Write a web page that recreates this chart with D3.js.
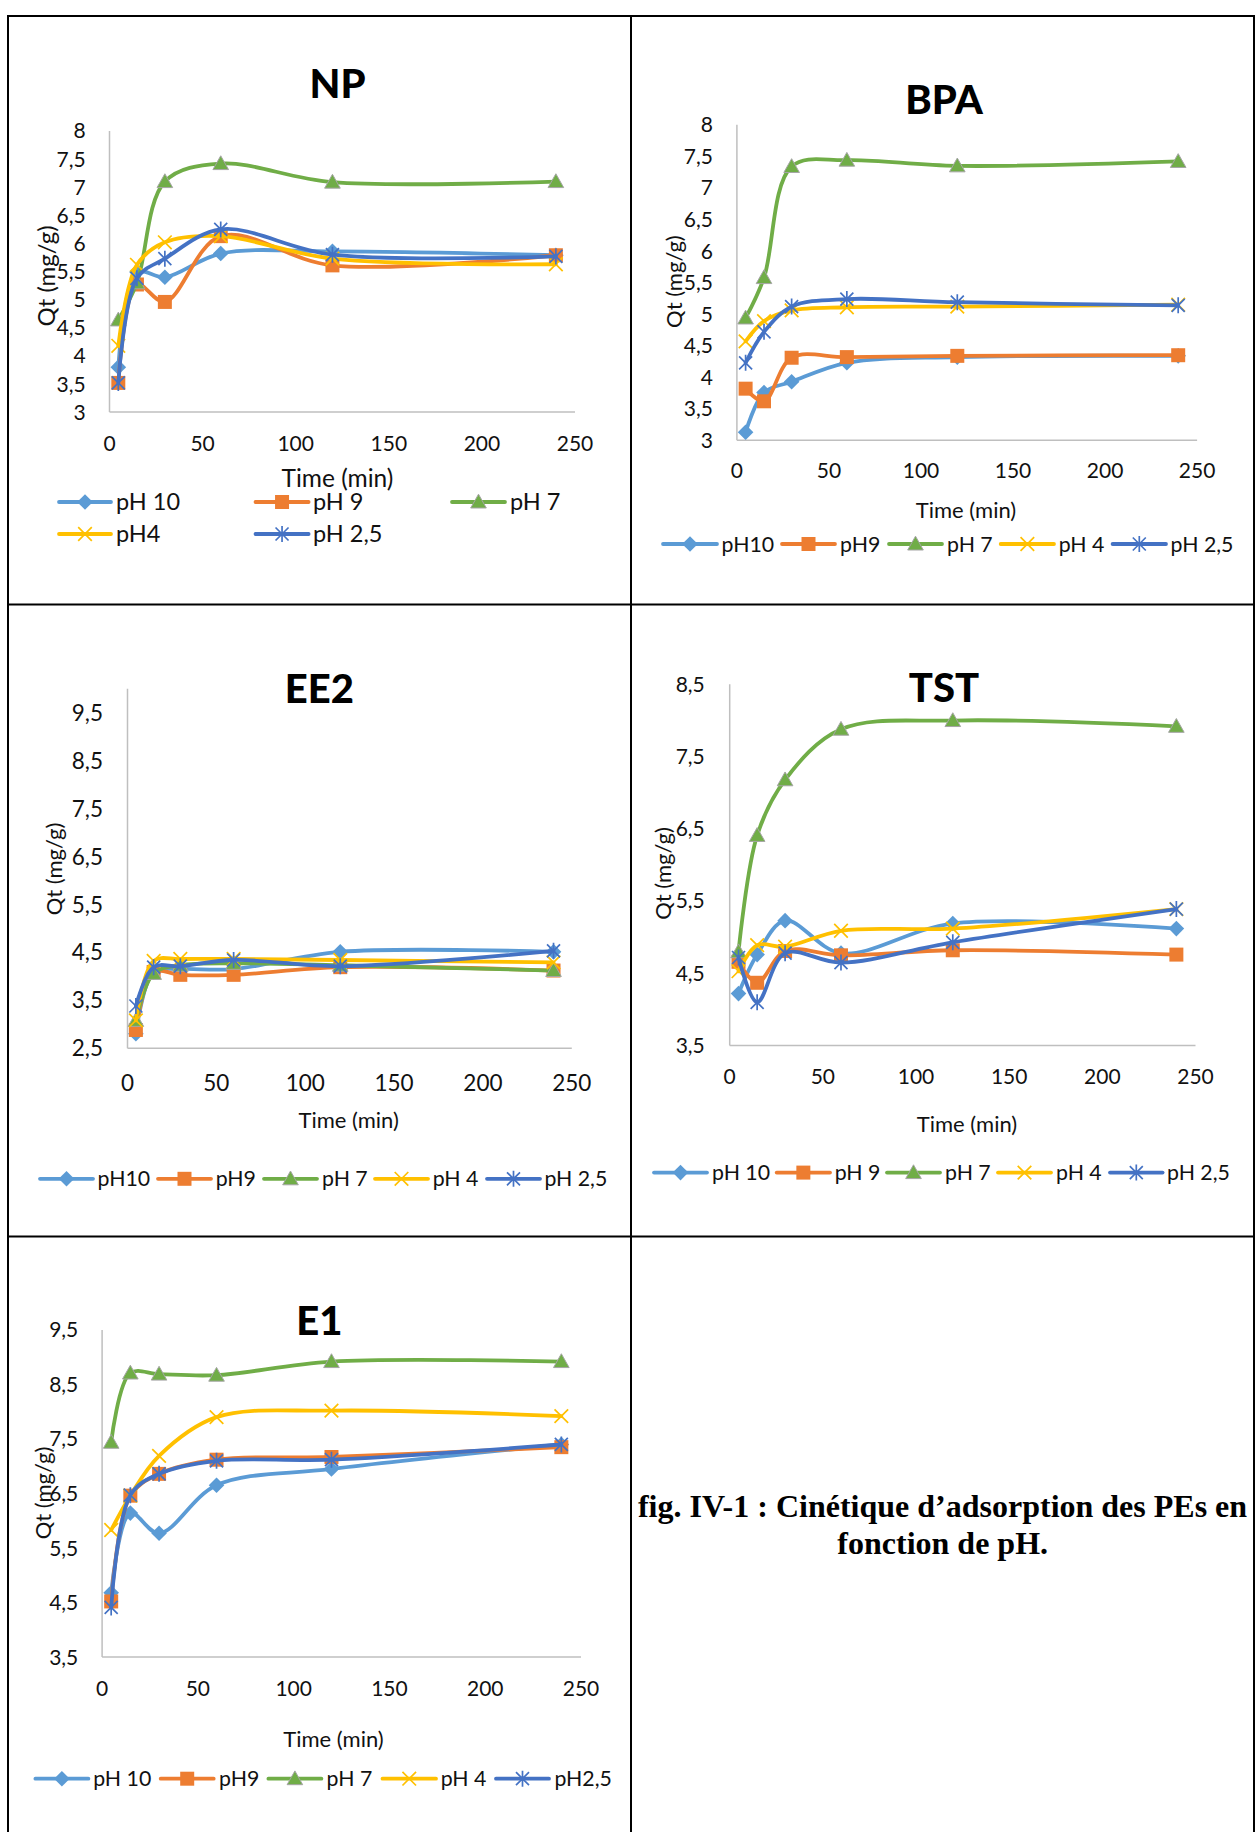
<!DOCTYPE html>
<html><head><meta charset="utf-8">
<script src="https://cdn.jsdelivr.net/npm/d3@7/dist/d3.min.js"></script>
<style>body{margin:0;background:#fff} svg{display:block}</style>
</head><body>
<svg id="fig" width="1255" height="1832"></svg>
<script>
// ---------------- data ----------------
const times = [5, 15, 30, 60, 120, 240];
const xTicks = [0, 50, 100, 150, 200, 250];
const seriesColors = ["#5B9BD5", "#ED7D31", "#70AD47", "#FFC000", "#4472C4"];
const seriesMarkers = ["diamond", "square", "triangle", "x", "star"];

const npLabels = ["pH 10", "pH 9", "pH 7", "pH4", "pH 2,5"];
const npYTicks = [3, 3.5, 4, 4.5, 5, 5.5, 6, 6.5, 7, 7.5, 8];
const npPH10 = [3.79, 5.48, 5.39, 5.81, 5.85, 5.78];
const npPH9  = [3.51, 5.26, 4.95, 6.12, 5.60, 5.78];
const npPH7  = [4.63, 5.29, 7.09, 7.41, 7.08, 7.09];
const npPH4  = [4.17, 5.61, 6.01, 6.12, 5.72, 5.62];
const npPH25 = [3.51, 5.37, 5.72, 6.24, 5.79, 5.76];

const bpaLabels = ["pH10", "pH9", "pH 7", "pH 4", "pH 2,5"];
const bpaYTicks = [3, 3.5, 4, 4.5, 5, 5.5, 6, 6.5, 7, 7.5, 8];
const bpaPH10 = [3.12, 3.75, 3.92, 4.22, 4.31, 4.33];
const bpaPH9  = [3.81, 3.61, 4.30, 4.31, 4.33, 4.34];
const bpaPH7  = [4.93, 5.57, 7.33, 7.43, 7.34, 7.41];
const bpaPH4  = [4.56, 4.88, 5.05, 5.10, 5.11, 5.14];
const bpaPH25 = [4.22, 4.71, 5.11, 5.23, 5.18, 5.13];

const ee2Labels = ["pH10", "pH9", "pH 7", "pH 4", "pH 2,5"];
const ee2YTicks = [2.5, 3.5, 4.5, 5.5, 6.5, 7.5, 8.5, 9.5];
const ee2PH10 = [2.79, 4.08, 4.14, 4.14, 4.50, 4.50];
const ee2PH9  = [2.87, 4.08, 4.02, 4.02, 4.18, 4.11];
const ee2PH7  = [3.07, 4.05, 4.22, 4.26, 4.22, 4.11];
const ee2PH4  = [3.07, 4.31, 4.35, 4.35, 4.33, 4.28];
const ee2PH25 = [3.37, 4.18, 4.20, 4.33, 4.20, 4.52];

const tstLabels = ["pH 10", "pH 9", "pH 7", "pH 4", "pH 2,5"];
const tstYTicks = [3.5, 4.5, 5.5, 6.5, 7.5, 8.5];
const tstPH10 = [4.21, 4.75, 5.22, 4.77, 5.18, 5.11];
const tstPH9  = [4.65, 4.36, 4.80, 4.74, 4.81, 4.75];
const tstPH7  = [4.79, 6.40, 7.17, 7.87, 7.99, 7.91];
const tstPH4  = [4.52, 4.88, 4.86, 5.08, 5.11, 5.38];
const tstPH25 = [4.71, 4.09, 4.77, 4.64, 4.92, 5.38];

const e1Labels = ["pH 10", "pH9", "pH 7", "pH 4", "pH2,5"];
const e1YTicks = [3.5, 4.5, 5.5, 6.5, 7.5, 8.5, 9.5];
const e1PH10 = [4.67, 6.13, 5.76, 6.64, 6.94, 7.39];
const e1PH9  = [4.51, 6.45, 6.85, 7.11, 7.16, 7.34];
const e1PH7  = [7.43, 8.70, 8.68, 8.66, 8.91, 8.91];
const e1PH4  = [5.82, 6.45, 7.18, 7.89, 8.01, 7.91];
const e1PH25 = [4.40, 6.46, 6.85, 7.09, 7.11, 7.39];

const captionLines = ["fig. IV-1 : Cinétique d\u2019adsorption des PEs en", "fonction de pH."];

// ---------------- layout ----------------
const FONT = "Lato, 'Open Sans', sans-serif";
const svg = d3.select("#fig");
const fmt = v => String(v).replace(".", ",");

const panels = [
  { title: "NP", labels: npLabels, yTicks: npYTicks, yDomain: [3, 8],
    series: [npPH10, npPH9, npPH7, npPH4, npPH25],
    x0: 109, x1: 574.5, yTop: 130.4, yBot: 411.6,
    tickFont: 21, xLabOff: 31.5, yPad: 23.4,
    titleX: 337.5, titleY: 98.4, titleSize: 40,
    timeX: 337.5, timeY: 478, timeSize: 24.5,
    qtX: 46, qtY: 276, qtSize: 24,
    legSize: 23.5,
    legend: [[59,111,116,502],[255.5,308.6,313,502],[452,505,510,502],[59,111,116,534],[255.5,308.6,313,534]] },
  { title: "BPA", labels: bpaLabels, yTicks: bpaYTicks, yDomain: [3, 8],
    series: [bpaPH10, bpaPH9, bpaPH7, bpaPH4, bpaPH25],
    x0: 736.4, x1: 1196.6, yTop: 124.2, yBot: 439.8,
    tickFont: 21, xLabOff: 31, yPad: 23.4,
    titleX: 944, titleY: 113.8, titleSize: 40,
    timeX: 966, timeY: 510, timeSize: 22,
    qtX: 674, qtY: 281.6, qtSize: 22,
    legSize: 21.3,
    legend: [[663,717,721.6,544],[782,835,840,544],[889,942,947,544],[1000.7,1054,1058.7,544],[1112.6,1166,1170.6,544]] },
  { title: "EE2", labels: ee2Labels, yTicks: ee2YTicks, yDomain: [2.5, 10],
    series: [ee2PH10, ee2PH9, ee2PH7, ee2PH4, ee2PH25],
    x0: 127, x1: 571.3, yTop: 688.2, yBot: 1047.7,
    tickFont: 22.5, xLabOff: 35, yPad: 24,
    titleX: 319.4, titleY: 702.9, titleSize: 40,
    timeX: 348.7, timeY: 1120.4, timeSize: 22,
    qtX: 54, qtY: 869, qtSize: 22,
    legSize: 21.3,
    legend: [[40,93,97.6,1178.8],[158,211,215.7,1178.8],[264,317,322,1178.8],[375,428,432.7,1178.8],[487,540,544.4,1178.8]] },
  { title: "TST", labels: tstLabels, yTicks: tstYTicks, yDomain: [3.5, 8.5],
    series: [tstPH10, tstPH9, tstPH7, tstPH4, tstPH25],
    x0: 729.2, x1: 1195, yTop: 683.7, yBot: 1044.9,
    tickFont: 21, xLabOff: 32, yPad: 24.4,
    titleX: 944, titleY: 702, titleSize: 40,
    timeX: 967, timeY: 1124.5, timeSize: 22,
    qtX: 663, qtY: 873.5, qtSize: 22,
    legSize: 21.3,
    legend: [[654,707,712,1172.6],[776.7,830,834.7,1172.6],[887,940,945,1172.6],[998,1051,1056,1172.6],[1110,1162.6,1167,1172.6]] },
  { title: "E1", labels: e1Labels, yTicks: e1YTicks, yDomain: [3.5, 9.5],
    series: [e1PH10, e1PH9, e1PH7, e1PH4, e1PH25],
    x0: 101.6, x1: 580.5, yTop: 1329.4, yBot: 1656.5,
    tickFont: 21, xLabOff: 31.5, yPad: 23.3,
    titleX: 319.4, titleY: 1334.8, titleSize: 40,
    timeX: 333.5, timeY: 1739.5, timeSize: 22,
    qtX: 43.4, qtY: 1493, qtSize: 22,
    legSize: 21.3,
    legend: [[35.4,88.4,93.2,1778.7],[160.7,213.7,219,1778.7],[268.4,321.4,326.6,1778.7],[382.5,436,440.7,1778.7],[496,549,554.4,1778.7]] }
];

// ---------------- table frame ----------------
const frame = svg.append("g").attr("stroke", "#000").attr("stroke-width", 2);
frame.append("line").attr("x1", 8).attr("x2", 1254).attr("y1", 16).attr("y2", 16);
frame.append("line").attr("x1", 8).attr("x2", 8).attr("y1", 15).attr("y2", 1832);
frame.append("line").attr("x1", 1254).attr("x2", 1254).attr("y1", 15).attr("y2", 1832);
frame.append("line").attr("x1", 631).attr("x2", 631).attr("y1", 15).attr("y2", 1832);
frame.append("line").attr("x1", 8).attr("x2", 1254).attr("y1", 604.5).attr("y2", 604.5);
frame.append("line").attr("x1", 8).attr("x2", 1254).attr("y1", 1236.5).attr("y2", 1236.5);

// ---------------- markers ----------------
function drawMarker(g, type, color, x, y) {
  const m = g.append("g").attr("transform", `translate(${x},${y})`);
  if (type === "diamond") {
    m.append("path").attr("d", "M0,-7.8L7.8,0L0,7.8L-7.8,0Z").attr("fill", color);
  } else if (type === "square") {
    m.append("path").attr("d", "M-7,-7h14v14h-14Z").attr("fill", color);
  } else if (type === "triangle") {
    m.append("path").attr("d", "M0,-7.8L7.8,6L-7.8,6Z").attr("fill", color)
      .attr("stroke", "#A5A5A5").attr("stroke-width", 1);
  } else if (type === "x") {
    m.append("path").attr("d", "M-6.8,-6.8L6.8,6.8M-6.8,6.8L6.8,-6.8").attr("stroke", color).attr("stroke-width", 1.7);
  } else if (type === "star") {
    m.append("path").attr("d", "M-6.5,-6.5L6.5,6.5M-6.5,6.5L6.5,-6.5M0,-8L0,8").attr("stroke", color).attr("stroke-width", 1.7);
  }
}

// ---------------- panels ----------------
panels.forEach(p => {
  const g = svg.append("g");
  const x = d3.scaleLinear().domain([0, 250]).range([p.x0, p.x1]);
  const y = d3.scaleLinear().domain(p.yDomain).range([p.yBot, p.yTop]);

  // axes
  const ya = g.append("g").attr("transform", `translate(${p.x0},0)`)
    .call(d3.axisLeft(y).tickValues(p.yTicks).tickFormat(fmt).tickSize(0).tickSizeOuter(0).tickPadding(p.yPad));
  const xa = g.append("g").attr("transform", `translate(0,${p.yBot})`)
    .call(d3.axisBottom(x).tickValues(xTicks).tickFormat(d3.format("d")).tickSize(0).tickSizeOuter(0));
  [ya, xa].forEach(a => {
    a.select(".domain").attr("stroke", "#BFBFBF").attr("stroke-width", 1.5);
    a.selectAll("text").attr("font-family", FONT).attr("font-size", p.tickFont).attr("fill", "#111");
  });
  ya.selectAll("text").attr("dy", "0.36em");
  xa.selectAll("text").attr("y", p.xLabOff).attr("dy", "0.36em");

  // title
  g.append("text").attr("x", p.titleX).attr("y", p.titleY).attr("text-anchor", "middle")
    .attr("font-family", FONT).attr("font-weight", 900).attr("font-size", p.titleSize).attr("fill", "#000")
    .text(p.title);
  // x axis title
  g.append("text").attr("x", p.timeX).attr("y", p.timeY).attr("dy", "0.36em").attr("text-anchor", "middle")
    .attr("font-family", FONT).attr("font-size", p.timeSize).attr("fill", "#111").text("Time (min)");
  // y axis title
  g.append("text").attr("transform", `translate(${p.qtX},${p.qtY}) rotate(-90)`).attr("dy", "0.36em")
    .attr("text-anchor", "middle").attr("font-family", FONT).attr("font-size", p.qtSize).attr("fill", "#111")
    .text("Qt (mg/g)");

  // series
  const line = d3.line().x((d, i) => x(times[i])).y(d => y(d)).curve(d3.curveCatmullRom.alpha(0.5));
  p.series.forEach((vals, si) => {
    const sg = g.append("g");
    sg.append("path").attr("d", line(vals)).attr("fill", "none")
      .attr("stroke", seriesColors[si]).attr("stroke-width", 3.8).attr("stroke-linejoin", "round").attr("stroke-linecap", "round");
    vals.forEach((v, i) => drawMarker(sg, seriesMarkers[si], seriesColors[si], x(times[i]), y(v)));
  });

  // legend
  p.legend.forEach((L, si) => {
    const lg = g.append("g");
    lg.append("line").attr("x1", L[0]).attr("x2", L[1]).attr("y1", L[3]).attr("y2", L[3])
      .attr("stroke", seriesColors[si]).attr("stroke-width", 3.8).attr("stroke-linecap", "round");
    drawMarker(lg, seriesMarkers[si], seriesColors[si], (L[0] + L[1]) / 2, L[3]);
    lg.append("text").attr("x", L[2]).attr("y", L[3]).attr("dy", "0.36em")
      .attr("font-family", FONT).attr("font-size", p.legSize).attr("fill", "#111").text(p.labels[si]);
  });
});

// ---------------- caption ----------------
const cap = svg.append("g").attr("font-family", "'Liberation Serif', 'Times New Roman', serif")
  .attr("font-weight", "bold").attr("font-size", 32).attr("text-anchor", "middle").attr("fill", "#000");
cap.append("text").attr("x", 942.5).attr("y", 1517).text(captionLines[0]);
cap.append("text").attr("x", 942.7).attr("y", 1554).text(captionLines[1]);
</script>
</body></html>
